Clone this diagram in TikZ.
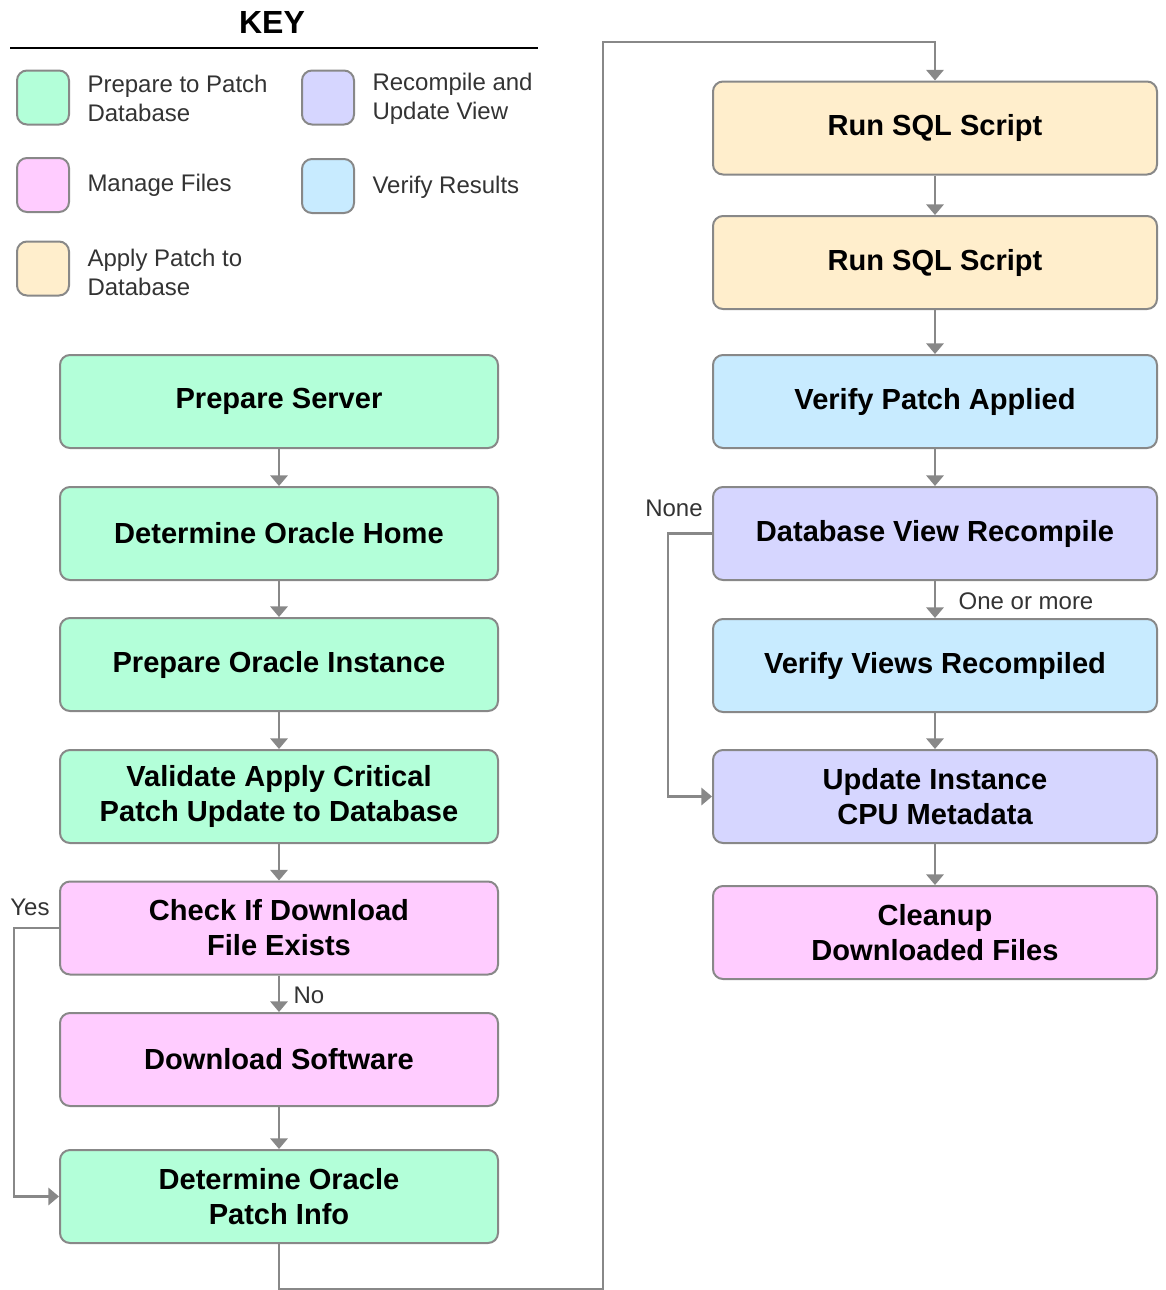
\documentclass[tikz,border=0pt]{standalone}
\usepackage{fontspec}
\setmainfont{Liberation Sans}
\usetikzlibrary{arrows.meta}

\definecolor{keygreen}{RGB}{179,255,217}
\definecolor{keypink}{RGB}{255,204,255}
\definecolor{keysand}{RGB}{255,238,204}
\definecolor{keyviolet}{RGB}{214,214,255}
\definecolor{keysky}{RGB}{200,235,255}
\definecolor{edgegray}{RGB}{136,136,136}
\definecolor{keytext}{RGB}{51,51,51}

\tikzset{every picture/.style={line width=0.75pt}}
\tikzset{
  stepbox/.style={draw=edgegray, line width=1.5pt, rounded corners=7.5pt, minimum width=328.5pt, minimum height=69.75pt, inner sep=0pt, align=center, font=\fontsize{21.8}{26.25}\selectfont\bfseries},
  widebox/.style={stepbox, minimum width=333pt},
  swatch/.style={draw=edgegray, line width=1.5pt, rounded corners=7.5pt, minimum width=39pt, minimum height=40.5pt, inner sep=0pt},
  keylabel/.style={anchor=west, inner sep=0pt, align=left, text=keytext, font=\fontsize{18}{21.75}\selectfont},
  flowlabel/.style={inner sep=0pt, text=keytext, font=\fontsize{18}{21.75}\selectfont},
  conn/.style={draw=edgegray, line width=1.8pt, -{Triangle[width=13pt,length=8pt]}}
}

\begin{document}
\begin{tikzpicture}[x=0.75pt,y=0.75pt,yscale=-1,xscale=1]
%set diagram left start at 0, and has height of 1290
\path[use as bounding box] (0,0) rectangle (1165,1290);

% Key
\node[inner sep=0pt, font=\fontsize{24}{28}\selectfont\bfseries] (keytitle) at (272,22) {KEY};
\draw[line width=1.5pt] (10,48) -- (538,48);
\node[swatch, fill=keygreen] (swgreen) at (43,97.5) {};
\node[swatch, fill=keypink] (swpink) at (43,185) {};
\node[swatch, fill=keysand] (swsand) at (43,268.5) {};
\node[swatch, fill=keyviolet] (swviolet) at (328,97.5) {};
\node[swatch, fill=keysky] (swsky) at (328,186) {};
\node[keylabel] (lbgreen) at (87,98.5) {Prepare to Patch\\Database};
\node[keylabel] (lbpink) at (87,185) {Manage Files};
\node[keylabel] (lbsand) at (87,272) {Apply Patch to\\Database};
\node[keylabel] (lbviolet) at (372,98.5) {Recompile and\\Update View};
\node[keylabel] (lbsky) at (372,187) {Verify Results};

% Left column
\node[stepbox, fill=keygreen] (prepserver) at (279,401.5) {Prepare Server};
\node[stepbox, fill=keygreen] (orahome) at (279,533.5) {Determine Oracle Home};
\node[stepbox, fill=keygreen] (orainst) at (279,664.5) {Prepare Oracle Instance};
\node[stepbox, fill=keygreen] (validate) at (279,796.5) {Validate Apply Critical\\Patch Update to Database};
\node[stepbox, fill=keypink] (checkfile) at (279,928) {Check If Download\\File Exists};
\node[stepbox, fill=keypink] (download) at (279,1059.5) {Download Software};
\node[stepbox, fill=keygreen] (patchinfo) at (279,1196.5) {Determine Oracle\\Patch Info};

% Right column
\node[widebox, fill=keysand] (sqlone) at (935,128) {Run SQL Script};
\node[widebox, fill=keysand] (sqltwo) at (935,262.5) {Run SQL Script};
\node[widebox, fill=keysky] (verpatch) at (935,401.5) {Verify Patch Applied};
\node[widebox, fill=keyviolet] (viewrecomp) at (935,533.5) {Database View Recompile};
\node[widebox, fill=keysky] (verviews) at (935,665.5) {Verify Views Recompiled};
\node[widebox, fill=keyviolet] (updinst) at (935,796.5) {Update Instance\\CPU Metadata};
\node[widebox, fill=keypink] (cleanup) at (935,932.5) {Cleanup\\Downloaded Files};

% Connectors
\draw[conn] (prepserver) -- (orahome);
\draw[conn] (orahome) -- (orainst);
\draw[conn] (orainst) -- (validate);
\draw[conn] (validate) -- (checkfile);
\draw[conn] (checkfile) -- (download);
\draw[conn] (download) -- (patchinfo);
\draw[conn] (checkfile.west) -- ++(-45,0) |- (patchinfo.west);
\coordinate (topturn) at (603,42);
\draw[conn] (patchinfo.south) -- ++(0,45) -| (topturn) -| (sqlone.north);
\draw[conn] (sqlone) -- (sqltwo);
\draw[conn] (sqltwo) -- (verpatch);
\draw[conn] (verpatch) -- (viewrecomp);
\draw[conn] (viewrecomp) -- (verviews);
\draw[conn] (verviews) -- (updinst);
\draw[conn] (updinst) -- (cleanup);
\draw[conn] (viewrecomp.west) -- ++(-44,0) |- (updinst.west);

% Text Node
\node[flowlabel] (yeslb) at (30,907) {Yes};
% Text Node
\node[flowlabel] (nolb) at (309,995) {No};
% Text Node
\node[flowlabel] (nonelb) at (674,508) {None};
% Text Node
\node[flowlabel] (morelb) at (1026,601) {One or more};

\end{tikzpicture}
\end{document}
